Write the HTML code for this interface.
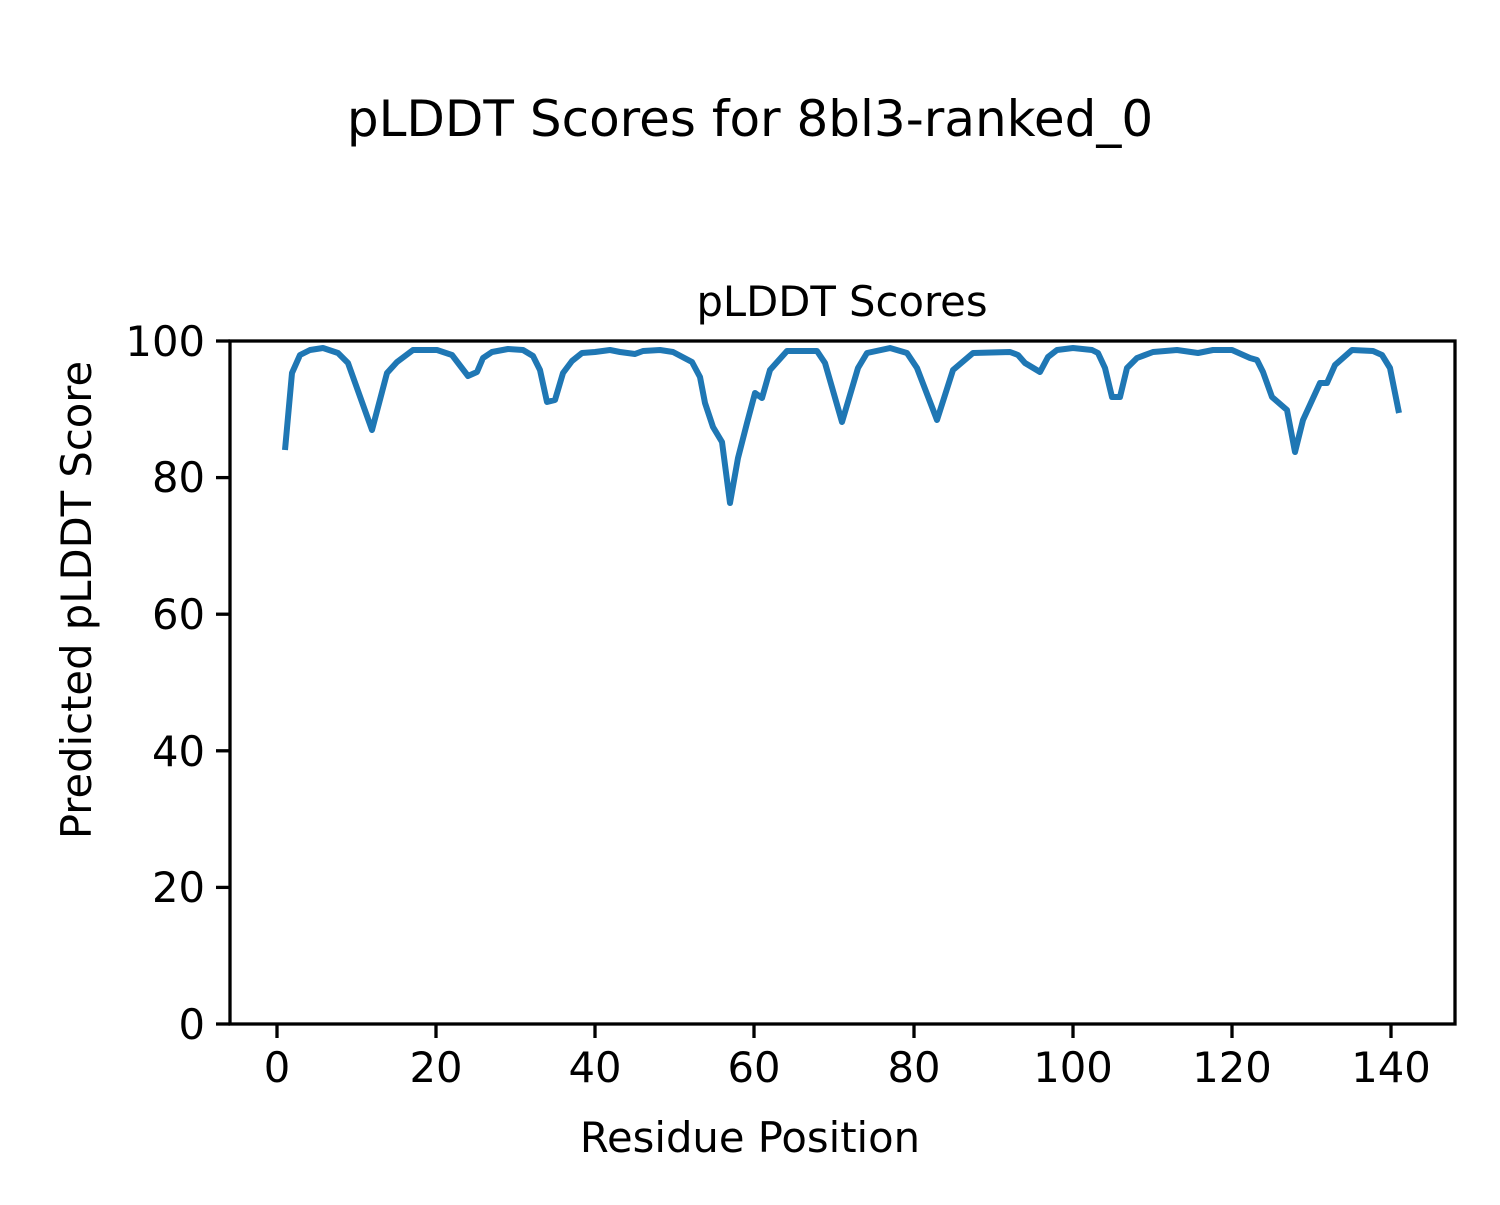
<!DOCTYPE html>
<html><head><style>html,body{margin:0;padding:0;background:#fff}</style></head>
<body>
<svg width="1500" height="1200" xmlns="http://www.w3.org/2000/svg" font-family="'DejaVu Sans','Liberation Sans',sans-serif">
<rect width="1500" height="1200" fill="#fff"/>
<text x="750" y="136" font-size="50" text-anchor="middle">pLDDT Scores for 8bl3-ranked_0</text>
<text x="842" y="316" font-size="41.7" text-anchor="middle">pLDDT Scores</text>
<polyline fill="none" stroke="#1f77b4" stroke-width="6" stroke-linejoin="round" points="285,450 292,373 300,355 310,350 323,348 338,353 348,363 372,430 387,373 397,362 413,350 437,350 452,355 468,376 477,372 483,358 492,352 508,349 523,350 533,356 540,370 547,402 555,400 563,373 572,361 582,353 595,352 610,350 620,352 635,354 643,351 660,350 673,352 692,362 700,377 705,403 713,427 722,442 730,503 738,458 747,423 755,393 762,398 770,370 787,351 817,351 825,363 842,422 858,368 867,353 890,348 907,353 917,368 937,420 953,370 973,353 1010,352 1018,355 1025,363 1040,372 1048,357 1057,350 1073,348 1092,350 1098,353 1105,368 1112,397 1120,397 1127,368 1137,358 1153,352 1177,350 1198,353 1213,350 1232,350 1250,358 1257,360 1263,372 1272,397 1287,410 1295,452 1303,420 1320,383 1327,383 1335,365 1352,350 1373,351 1382,355 1390,368 1399,413"/>
<rect x="230" y="341" width="1225" height="683" fill="none" stroke="#000" stroke-width="3.3"/>
<g stroke="#000" stroke-width="3.3">
<line x1="277" y1="1024" x2="277" y2="1038"/><line x1="436" y1="1024" x2="436" y2="1038"/><line x1="595" y1="1024" x2="595" y2="1038"/><line x1="754" y1="1024" x2="754" y2="1038"/><line x1="914" y1="1024" x2="914" y2="1038"/><line x1="1073" y1="1024" x2="1073" y2="1038"/><line x1="1232" y1="1024" x2="1232" y2="1038"/><line x1="1391" y1="1024" x2="1391" y2="1038"/>
<line x1="216" y1="1024" x2="230" y2="1024"/><line x1="216" y1="887.4" x2="230" y2="887.4"/><line x1="216" y1="750.8" x2="230" y2="750.8"/><line x1="216" y1="614.2" x2="230" y2="614.2"/><line x1="216" y1="477.6" x2="230" y2="477.6"/><line x1="216" y1="341" x2="230" y2="341"/>
</g>
<g font-size="41.7" text-anchor="middle">
<text x="277" y="1082">0</text><text x="436" y="1082">20</text><text x="595" y="1082">40</text><text x="754" y="1082">60</text><text x="914" y="1082">80</text><text x="1073" y="1082">100</text><text x="1232" y="1082">120</text><text x="1391" y="1082">140</text>
</g>
<g font-size="41.7" text-anchor="end">
<text x="205" y="1039">0</text><text x="205" y="902">20</text><text x="205" y="766">40</text><text x="205" y="629">60</text><text x="205" y="492">80</text><text x="205" y="356">100</text>
</g>
<text x="750" y="1152" font-size="41.7" text-anchor="middle">Residue Position</text>
<text transform="translate(91,600) rotate(-90)" font-size="41.7" text-anchor="middle">Predicted pLDDT Score</text>
</svg>
</body></html>
